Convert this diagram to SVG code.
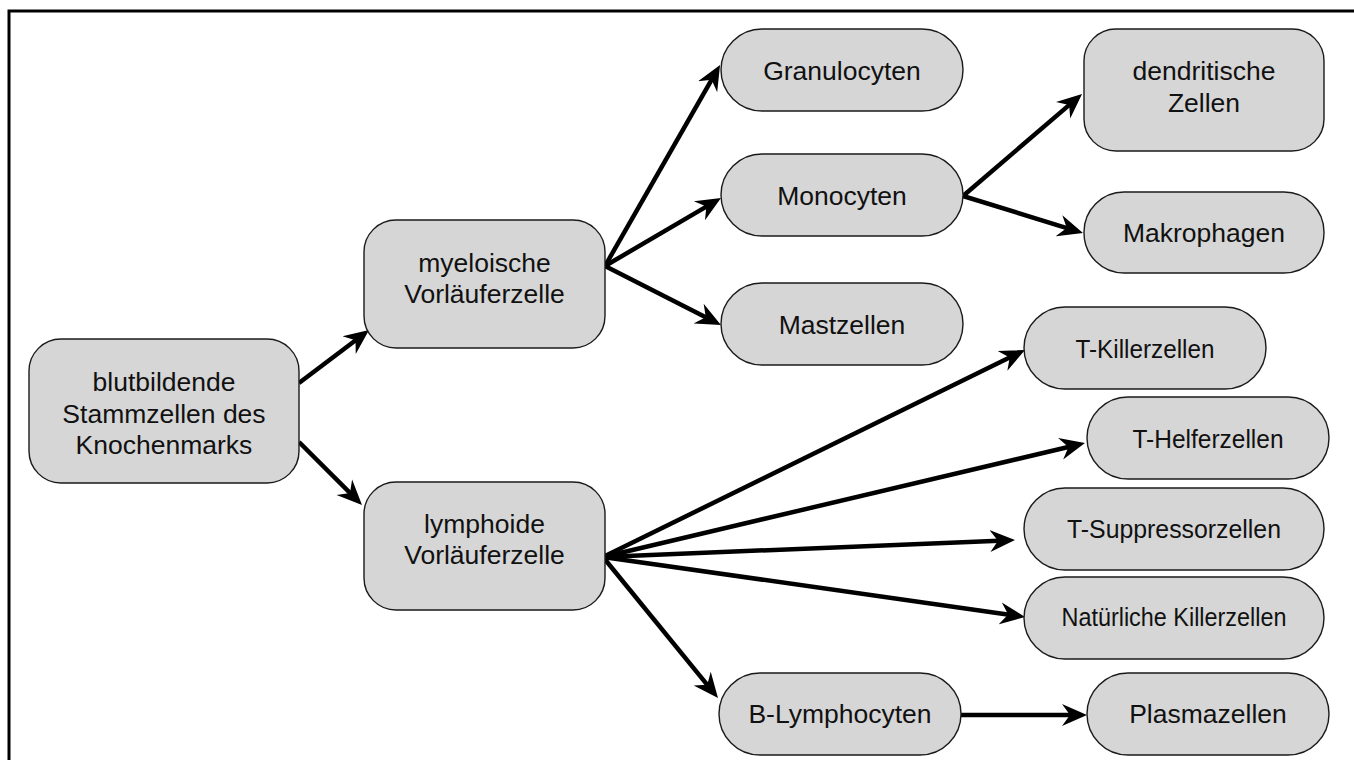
<svg xmlns="http://www.w3.org/2000/svg" width="1354" height="760" viewBox="0 0 1354 760">
  <style>
    .box { fill: #d6d6d6; stroke: #1a1a1a; stroke-width: 1.4; }
    .lbl { font-family: "Liberation Sans", Arial, sans-serif; font-size: 26.5px; fill: #111; text-anchor: middle; }
    .edge { fill: none; stroke: #000; stroke-width: 4.5; }
  </style>
  <defs>
    <marker id="arrow" markerUnits="userSpaceOnUse" viewBox="0 -12 28 24" refX="9" refY="0" markerWidth="28" markerHeight="24" orient="auto">
      <path d="M25,0 L0,-11 L8,0 L0,11 Z" fill="#000"/>
    </marker>
  </defs>

  <rect x="9" y="11" width="1400" height="800" fill="#fff" stroke="#000" stroke-width="3"/>

  <g id="connectors">
    <path class="edge" marker-end="url(#arrow)" d="M299,383 L356.3,339.7"/>
    <path class="edge" marker-end="url(#arrow)" d="M299,442 L350.7,493.7"/>
    <path class="edge" marker-end="url(#arrow)" d="M605,266 L712.1,78.9"/>
    <path class="edge" marker-end="url(#arrow)" d="M605,266 L707.2,206.1"/>
    <path class="edge" marker-end="url(#arrow)" d="M605,266 L706.7,317.7"/>
    <path class="edge" marker-end="url(#arrow)" d="M963,196 L1069.9,104.4"/>
    <path class="edge" marker-end="url(#arrow)" d="M963,196 L1067.7,228.3"/>
    <path class="edge" marker-end="url(#arrow)" d="M603,557 L1010.6,357"/>
    <path class="edge" marker-end="url(#arrow)" d="M603,557 L1069.4,446.7"/>
    <path class="edge" marker-end="url(#arrow)" d="M603,557 L999,540.7"/>
    <path class="edge" marker-end="url(#arrow)" d="M603,557 L1009.2,614.7"/>
    <path class="edge" marker-end="url(#arrow)" d="M603,557 L707.9,685.6"/>
    <path class="edge" marker-end="url(#arrow)" d="M961,715 L1071,715"/>
  </g>

  <g id="stammzellen">
    <rect class="box" x="29" y="339" width="270" height="144" rx="32"/>
    <text class="lbl" x="164" y="391">blutbildende</text>
    <text class="lbl" x="164" y="423">Stammzellen des</text>
    <text class="lbl" x="164" y="454">Knochenmarks</text>
  </g>

  <g id="myeloisch">
    <rect class="box" x="364" y="220" width="241" height="128" rx="32"/>
    <text class="lbl" x="484.5" y="272">myeloische</text>
    <text class="lbl" x="484.5" y="303">Vorläuferzelle</text>
  </g>

  <g id="lymphoid">
    <rect class="box" x="364" y="482" width="241" height="128" rx="32"/>
    <text class="lbl" x="484.5" y="533">lymphoide</text>
    <text class="lbl" x="484.5" y="564">Vorläuferzelle</text>
  </g>

  <g id="granulocyten">
    <rect class="box" x="721" y="29" width="242" height="82" rx="41"/>
    <text class="lbl" x="842" y="80">Granulocyten</text>
  </g>

  <g id="monocyten">
    <rect class="box" x="721" y="154" width="242" height="82" rx="41"/>
    <text class="lbl" x="842" y="205">Monocyten</text>
  </g>

  <g id="mastzellen">
    <rect class="box" x="721" y="283" width="242" height="82" rx="41"/>
    <text class="lbl" x="842" y="334">Mastzellen</text>
  </g>

  <g id="dendritisch">
    <rect class="box" x="1084" y="29" width="240" height="122" rx="32"/>
    <text class="lbl" x="1204" y="80">dendritische</text>
    <text class="lbl" x="1204" y="112">Zellen</text>
  </g>

  <g id="makrophagen">
    <rect class="box" x="1084" y="192" width="240" height="81" rx="40"/>
    <text class="lbl" x="1204" y="242">Makrophagen</text>
  </g>

  <g id="t-killer">
    <rect class="box" x="1024" y="307" width="242" height="82" rx="41"/>
    <text class="lbl" x="1145" y="358" textLength="139" lengthAdjust="spacingAndGlyphs">T-Killerzellen</text>
  </g>

  <g id="t-helfer">
    <rect class="box" x="1087" y="397" width="242" height="82" rx="41"/>
    <text class="lbl" x="1208" y="448" textLength="151" lengthAdjust="spacingAndGlyphs">T-Helferzellen</text>
  </g>

  <g id="t-suppressor">
    <rect class="box" x="1024" y="488" width="300" height="82" rx="41"/>
    <text class="lbl" x="1174" y="538" textLength="214" lengthAdjust="spacingAndGlyphs">T-Suppressorzellen</text>
  </g>

  <g id="nk-zellen">
    <rect class="box" x="1024" y="577" width="300" height="82" rx="41"/>
    <text class="lbl" x="1174" y="626" textLength="225" lengthAdjust="spacingAndGlyphs">Natürliche Killerzellen</text>
  </g>

  <g id="b-lymphocyten">
    <rect class="box" x="719" y="673" width="242" height="82" rx="41"/>
    <text class="lbl" x="840" y="723">B-Lymphocyten</text>
  </g>

  <g id="plasmazellen">
    <rect class="box" x="1087" y="673" width="242" height="82" rx="41"/>
    <text class="lbl" x="1208" y="723">Plasmazellen</text>
  </g>
</svg>
